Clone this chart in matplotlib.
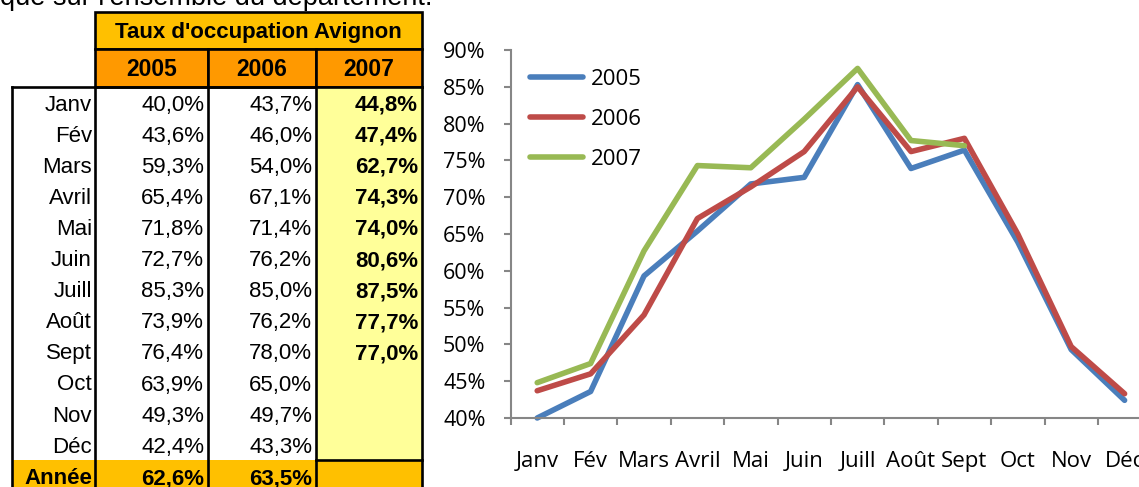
import matplotlib
matplotlib.use('Agg')
import matplotlib.pyplot as plt
from matplotlib.patches import Rectangle
import numpy as np

# ---------------- data ----------------
months = ['Janv', 'Fév', 'Mars', 'Avril', 'Mai', 'Juin', 'Juill', 'Août',
          'Sept', 'Oct', 'Nov', 'Déc']
years = ['2005', '2006', '2007']
rate_2005 = [40.0, 43.6, 59.3, 65.4, 71.8, 72.7, 85.3, 73.9, 76.4, 63.9, 49.3, 42.4]
rate_2006 = [43.7, 46.0, 54.0, 67.1, 71.4, 76.2, 85.0, 76.2, 78.0, 65.0, 49.7, 43.3]
rate_2007 = [44.8, 47.4, 62.7, 74.3, 74.0, 80.6, 87.5, 77.7, 77.0]
annual = [62.6, 63.5, None]
table_title = "Taux d'occupation Avignon"
year_label = 'Année'
intro_text = "que sur l'ensemble du département."
y_ticks = [40, 45, 50, 55, 60, 65, 70, 75, 80, 85, 90]

series = [rate_2005, rate_2006, rate_2007]
line_colors = ['#4A7EBB', '#BE4B48', '#98B954']

W, H = 1139, 487
fig = plt.figure(figsize=(W / 100, H / 100), dpi=100)
fig.patch.set_facecolor('white')

TF = 'Liberation Sans'
CF = 'Open Sans'

# ---------------- table (pixel coordinates) ----------------
tax = fig.add_axes([0, 0, 1, 1])
tax.set_xlim(0, W)
tax.set_ylim(H, 0)
tax.axis('off')

x_left = 12
col_edges = [95, 208, 316, 422]
title_top, title_bot = 12, 49
head_bot = 87
row_h = 31.1
n_rows = len(months)
data_bot = head_bot + row_h * n_rows
annee_bot = data_bot + row_h + 4

gold = '#FFC000'
orange = '#FF9900'
yellow = '#FFFF99'
blw = 1.9

# title cell
tax.add_patch(Rectangle((col_edges[0], title_top), col_edges[3] - col_edges[0],
                        title_bot - title_top, facecolor=gold, edgecolor='black', lw=blw))
tax.text((col_edges[0] + col_edges[3]) / 2, (title_top + title_bot) / 2 + 2, table_title,
         ha='center', va='center', fontsize=16, fontweight='bold', family=TF)
# header cells
for i, yr in enumerate(years):
    tax.add_patch(Rectangle((col_edges[i], title_bot), col_edges[i + 1] - col_edges[i],
                            head_bot - title_bot, facecolor=orange, edgecolor='black', lw=blw))
    tax.text((col_edges[i] + col_edges[i + 1]) / 2, (title_bot + head_bot) / 2 + 2, yr,
             ha='center', va='center', fontsize=16.5, fontweight='bold', family=TF)
# 2007 column background
tax.add_patch(Rectangle((col_edges[2], head_bot), col_edges[3] - col_edges[2],
                        data_bot - head_bot, facecolor=yellow, edgecolor='none'))
# year row background
tax.add_patch(Rectangle((x_left, data_bot), col_edges[3] - x_left,
                        annee_bot - data_bot, facecolor=gold, edgecolor='none'))
# borders
tax.plot([x_left, col_edges[3]], [head_bot, head_bot], color='black', lw=blw)
for xe in [x_left] + col_edges:
    tax.plot([xe, xe], [head_bot, annee_bot], color='black', lw=blw)
tax.plot([col_edges[2], col_edges[3]], [data_bot, data_bot], color='black', lw=blw)

def fmt(v):
    return f"{v:.1f}%".replace('.', ',')

for r, m in enumerate(months):
    yb = head_bot + row_h * (r + 1) - 7.5
    tax.text(col_edges[0] - 3, yb, m, ha='right', va='baseline', fontsize=16, family=TF)
    for c, s in enumerate(series):
        if r < len(s):
            tax.text(col_edges[c + 1] - 4, yb, fmt(s[r]), ha='right', va='baseline',
                     fontsize=16, family=TF, fontweight='bold' if c == 2 else 'normal')
yb = data_bot + row_h - 7
tax.text(col_edges[0] - 3, yb, year_label, ha='right', va='baseline', fontsize=16,
         family=TF, fontweight='bold')
for c, v in enumerate(annual):
    if v is not None:
        tax.text(col_edges[c + 1] - 4, yb, fmt(v), ha='right', va='baseline',
                 fontsize=16, family=TF, fontweight='bold')

fig.text(0, 1 - 5 / H, intro_text, ha='left', va='baseline', fontsize=19.5, family=TF)

# ---------------- line chart ----------------
ax_l, ax_r = 510.5, 510.5 + 12 * 53.4
ax_t, ax_b = 50, 418
ax = fig.add_axes([ax_l / W, (H - ax_b) / H, (ax_r - ax_l) / W, (ax_b - ax_t) / H])
ax.set_facecolor('none')
x = np.arange(len(months))
for s, col, yr in zip(series, line_colors, years):
    ax.plot(x[:len(s)], s, color=col, lw=4.0, label=yr, clip_on=False,
            solid_capstyle='round', solid_joinstyle='round')
ax.set_xlim(-0.5, len(months) - 0.5)
ax.set_ylim(y_ticks[0], y_ticks[-1])
ax.set_yticks(y_ticks)
ax.set_yticklabels([f"{t}%" for t in y_ticks], fontsize=15.5, family=CF)
ax.set_xticks(np.arange(-0.5, len(months), 1))
ax.set_xticklabels([])
ax.set_xticks(x, minor=True)
ax.set_xticklabels(months, minor=True, fontsize=16, family=CF)
gray = '#868686'
for sp in ['top', 'right']:
    ax.spines[sp].set_visible(False)
for sp in ['left', 'bottom']:
    ax.spines[sp].set_color(gray)
    ax.spines[sp].set_linewidth(1.5)
ax.tick_params(axis='y', which='major', length=5, width=1.5, color=gray, pad=13)
ax.tick_params(axis='x', which='major', length=5, width=1.5, color=gray)
ax.tick_params(axis='x', which='minor', length=0, pad=24)

ax.legend(loc='upper left', bbox_to_anchor=(530 / W, 1 - 69 / H),
          bbox_transform=fig.transFigure, frameon=False,
          prop={'family': CF, 'size': 16}, handlelength=2.4, handletextpad=0.35,
          labelspacing=0.85, borderpad=0, borderaxespad=0)

fig.savefig('out.png', dpi=100)
